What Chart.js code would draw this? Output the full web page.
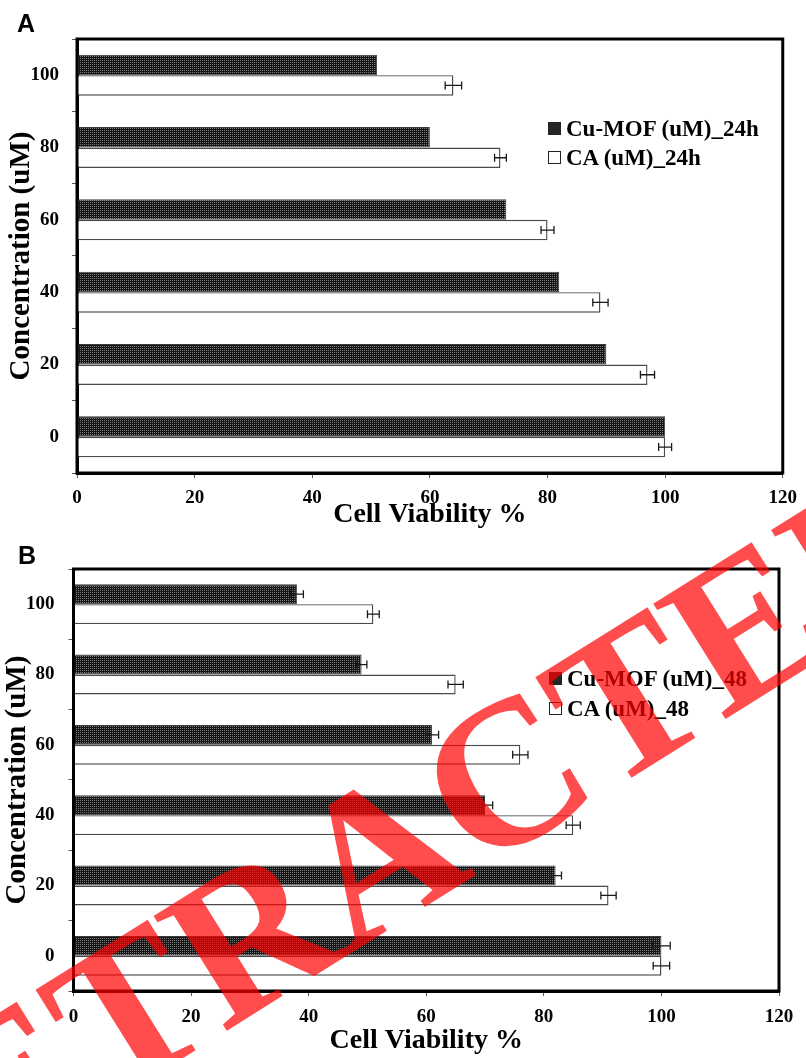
<!DOCTYPE html>
<html>
<head>
<meta charset="utf-8">
<script src="https://cdn.jsdelivr.net/npm/chart.js@4.4.1/dist/chart.umd.min.js"></script>
<style>
  html, body { margin: 0; padding: 0; background: #fff; }
  #wrap { position: relative; width: 806px; height: 1058px; overflow: hidden; background: #fff; }
  .pane { position: absolute; left: 0; width: 806px; }
  .pane canvas { display: block; }
  .letter { position: absolute; font-family: "Liberation Sans", Arial, sans-serif; font-weight: bold; font-size: 25px; line-height: 1; color: #000; }
  .legtxt { position: absolute; font-family: "Liberation Serif", "Times New Roman", serif; font-weight: bold; font-size: 23px; line-height: 29px; white-space: nowrap; color: #000; }
  .legbox { position: absolute; width: 11px; height: 11px; border: 1px solid #222; box-sizing: content-box; }
  .legbox.dark { background-color: #262626; background-image: radial-gradient(#8a8a8a 0.5px, transparent 0.7px); background-size: 2px 2px; }
  .legbox.light { background: #fff; }
  #wm { position: absolute; left: 0; top: 0; pointer-events: none; }
</style>
</head>
<body>
<div id="wrap">
  <div class="pane" style="top:0;height:530px;"><canvas id="chartA" width="806" height="530"></canvas></div>
  <div class="pane" style="top:530px;height:528px;"><canvas id="chartB" width="806" height="528"></canvas></div>
  <div class="letter" style="left:17px;top:11px;">A</div>
  <div class="letter" style="left:18px;top:543px;">B</div>
  <div id="legA"></div>
  <div id="legB"></div>
  <svg id="wm" width="806" height="1058">
    <text x="-140" y="1260" transform="rotate(-32 -140 1260)" font-family="Liberation Serif, Times New Roman, serif" font-weight="bold" font-size="208" fill="rgba(255,0,0,0.7)">RETRACTED</text>
  </svg>
</div>
<script>
// ---- data ----
const concentrations = ['0', '20', '40', '60', '80', '100'];
const xTickValues = [0, 20, 40, 60, 80, 100, 120];

const cuMof24 = [100, 90, 82, 73, 60, 51];
const ca24 = [100, 97, 89, 80, 72, 64];
const ca24Err = [1.1, 1.2, 1.3, 1.1, 1.0, 1.4];

const cuMof48 = [100, 82, 70, 61, 49, 38];
const cuMof48Err = [1.5, 1.0, 1.3, 1.1, 0.9, 1.1];
const ca48 = [100, 91, 85, 76, 65, 51];
const ca48Err = [1.4, 1.3, 1.2, 1.3, 1.3, 1.0];

const legend24 = ['Cu-MOF (uM)_24h', 'CA (uM)_24h'];
const legend48 = ['Cu-MOF (uM)_48', 'CA (uM)_48'];

const xTitle = 'Cell Viability %';
const yTitle = 'Concentration (uM)';

// ---- helpers ----
const SERIF = '"Liberation Serif", "Times New Roman", serif';

function makePattern() {
  const c = document.createElement('canvas');
  c.width = 2; c.height = 2;
  const g = c.getContext('2d');
  g.fillStyle = '#161616'; g.fillRect(0, 0, 2, 2);
  g.fillStyle = '#7a7a7a'; g.fillRect(0, 0, 1, 1);
  return g.createPattern(c, 'repeat');
}

const errorBars = {
  id: 'errorBars',
  afterDatasetsDraw(chart) {
    const ctx = chart.ctx, xs = chart.scales.x;
    chart.data.datasets.forEach((ds, di) => {
      if (!ds.errors) return;
      const meta = chart.getDatasetMeta(di);
      meta.data.forEach((bar, i) => {
        const e = ds.errors[i];
        if (e == null) return;
        const v = ds.data[i];
        const x0 = xs.getPixelForValue(v - e), x1 = xs.getPixelForValue(v + e), y = bar.y;
        ctx.save();
        ctx.strokeStyle = '#1a1a1a';
        ctx.lineWidth = 1.3;
        ctx.beginPath();
        ctx.moveTo(x0, y); ctx.lineTo(x1, y);
        ctx.moveTo(x0, y - 4); ctx.lineTo(x0, y + 4);
        ctx.moveTo(x1, y - 4); ctx.lineTo(x1, y + 4);
        ctx.stroke();
        ctx.restore();
      });
    });
  }
};

const frame = {
  id: 'frame',
  afterDraw(chart) {
    const { ctx, chartArea: a } = chart;
    ctx.save();
    ctx.strokeStyle = '#000';
    ctx.lineWidth = 3;
    ctx.strokeRect(a.left, a.top, a.right - a.left, a.bottom - a.top);
    ctx.restore();
  }
};

function makeChart(id, series, errs, labels, geo) {
  const pattern = makePattern();
  return new Chart(document.getElementById(id), {
    type: 'bar',
    data: {
      labels: concentrations,
      datasets: [
        { label: labels[0], data: series[0], errors: errs[0], backgroundColor: pattern, borderColor: '#3a3a3a', borderWidth: 1 },
        { label: labels[1], data: series[1], errors: errs[1], backgroundColor: '#ffffff', borderColor: '#4a4a4a', borderWidth: 1.4 }
      ]
    },
    options: {
      indexAxis: 'y',
      responsive: false,
      animation: false,
      layout: { padding: { top: geo.top, right: geo.right, bottom: 0, left: 0 } },
      plugins: { legend: { display: false }, tooltip: { enabled: false } },
      datasets: { bar: { categoryPercentage: 0.567, barPercentage: 1 } },
      scales: {
        x: {
          min: 0, max: 120,
          afterBuildTicks(s) { s.ticks = xTickValues.map(v => ({ value: v })); },
          ticks: { padding: geo.xPad, color: '#000', font: { family: SERIF, size: 19, weight: 'bold' } },
          grid: { drawOnChartArea: false, drawTicks: true, tickLength: 5, color: '#555' },
          border: { color: '#000', width: 3 },
          title: { display: true, text: xTitle, color: '#000', font: { family: SERIF, size: 28, weight: 'bold' }, padding: { top: 0, bottom: geo.xTitlePad } },
          afterFit(s) { s.height = geo.xH; }
        },
        y: {
          reverse: true,
          ticks: { padding: geo.yPad, color: '#000', font: { family: SERIF, size: 19, weight: 'bold' } },
          grid: { offset: true, drawOnChartArea: false, drawTicks: true, tickLength: 5, color: '#555' },
          border: { color: '#000', width: 3 },
          title: { display: true, text: yTitle, color: '#000', font: { family: SERIF, size: 29, weight: 'bold' }, padding: { top: geo.yTitlePad, bottom: 0 } },
          afterFit(s) { s.width = geo.yW; }
        }
      }
    },
    plugins: [frame, errorBars]
  });
}

makeChart('chartA', [cuMof24, ca24], [null, ca24Err], legend24,
  { top: 39, right: 17, xH: 57, yW: 77, xPad: 9, yPad: 13, yTitlePad: 4, xTitlePad: -2 });
makeChart('chartB', [cuMof48, ca48], [cuMof48Err, ca48Err], legend48,
  { top: 39, right: 27, xH: 67, yW: 73.5, xPad: 10, yPad: 14, yTitlePad: 0, xTitlePad: 0 });

// ---- HTML legends ----
function buildLegend(elId, labels, pos) {
  const host = document.getElementById(elId);
  labels.forEach((t, i) => {
    const cy = pos.y + i * pos.dy;
    const b = document.createElement('div');
    b.className = 'legbox ' + (i === 0 ? 'dark' : 'light');
    b.style.left = pos.bx + 'px';
    b.style.top = (cy - 6.5) + 'px';
    host.appendChild(b);
    const d = document.createElement('div');
    d.className = 'legtxt';
    d.textContent = t;
    d.style.left = pos.tx + 'px';
    d.style.top = (cy - 14.5) + 'px';
    host.appendChild(d);
  });
}
buildLegend('legA', legend24, { bx: 548, tx: 566, y: 128, dy: 29 });
buildLegend('legB', legend48, { bx: 549, tx: 567, y: 678, dy: 30 });
</script>
</body>
</html>
